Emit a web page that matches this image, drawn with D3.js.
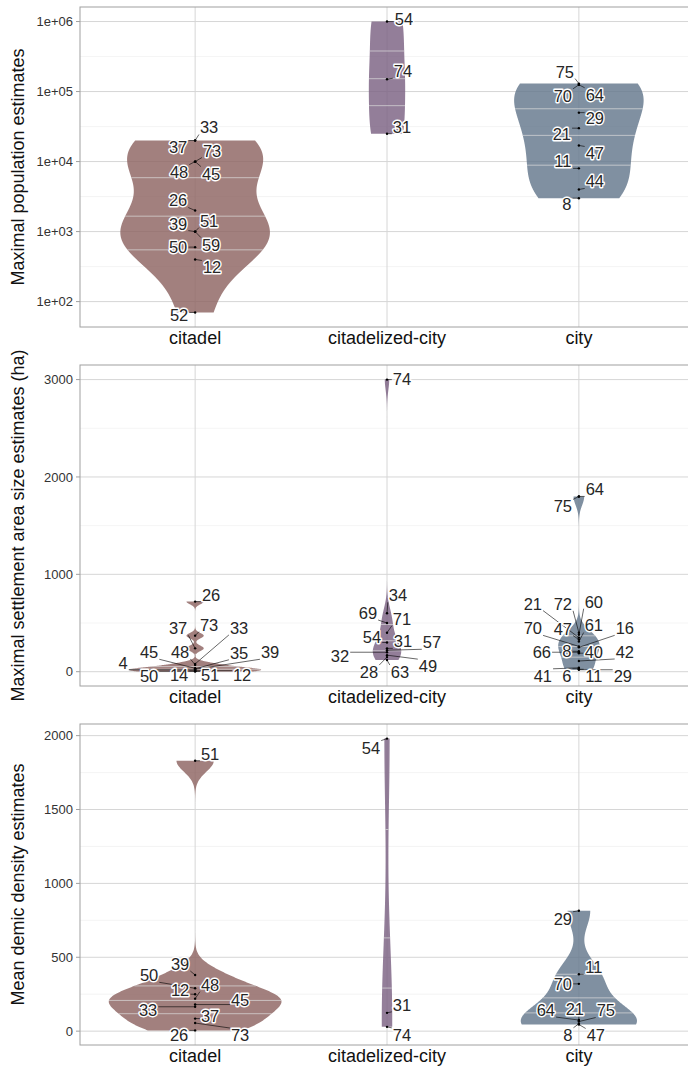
<!DOCTYPE html>
<html>
<head>
<meta charset="utf-8">
<title>Violin panels</title>
<script src="https://cdn.jsdelivr.net/npm/d3@7"></script>
<style>
  body { margin: 0; background: #fff; }
  text { font-family: "Liberation Sans", Arial, Helvetica, sans-serif; }
</style>
</head>
<body>
<svg id="chart" width="688" height="1068"></svg>
<script>
const categories = ["citadel", "citadelized-city", "city"];

// maximal population estimates
const popCitadelIds = [33, 37, 73, 48, 45, 26, 39, 51, 59, 50, 12, 52];
const popCitadel = [20000, 20000, 10000, 10000, 10000, 2000, 1000, 1000, 1000, 600, 400, 70];
const popCitadelizedIds = [54, 74, 31];
const popCitadelized = [1000000, 150000, 25000];
const popCityIds = [75, 70, 64, 29, 21, 47, 11, 44, 8];
const popCity = [130000, 125000, 125000, 50000, 30000, 17000, 8000, 4000, 3000];
const popTicks = [1e2, 1e3, 1e4, 1e5, 1e6];
const popTickLabels = ["1e+02", "1e+03", "1e+04", "1e+05", "1e+06"];

// maximal settlement area size (ha)
const areaCitadelIds = [26, 73, 37, 33, 48, 45, 35, 39, 4, 12, 14, 50, 51];
const areaCitadel = [720, 370, 240, 80, 70, 35, 30, 25, 20, 10, 8, 5, 3];
const areaCitadelizedIds = [74, 34, 69, 71, 54, 31, 57, 32, 49, 28, 63];
const areaCitadelized = [3000, 600, 500, 400, 300, 240, 220, 200, 170, 150, 120];
const areaCityIds = [64, 75, 72, 60, 21, 47, 61, 70, 16, 8, 66, 40, 42, 41, 6, 11, 29];
const areaCity = [1800, 1800, 400, 380, 350, 330, 310, 260, 250, 210, 200, 190, 110, 40, 30, 25, 20];
const areaTicks = [0, 1000, 2000, 3000];

// mean demic density
const densCitadelIds = [51, 39, 50, 12, 48, 45, 33, 37, 73, 26];
const densCitadel = [1830, 380, 290, 250, 220, 180, 165, 85, 55, 5];
const densCitadelizedIds = [54, 31, 74];
const densCitadelized = [1980, 124, 29];
const densCityIds = [29, 11, 70, 64, 21, 75, 8, 47];
const densCity = [815, 385, 320, 75, 70, 65, 50, 45];
const densTicks = [0, 500, 1000, 1500, 2000];

// where each repelled label sits relative to its point (px)
const popCitadelNudge = [[14,-13],[-17,7],[17,-11],[-16,10],[16,12],[-17,-10],[-17,-8],[14,-11],[16,13],[-17,0],[17,8],[-16,3]];
const popCitadelizedNudge = [[17,-2],[16,-8],[15,-7]];
const popCityNudge = [[-14,-12],[-16,11],[16,10],[16,5],[-17,6],[16,8],[-16,-7],[16,-8],[-12,6]];
const areaCitadelNudge = [[16,-7],[14,-11],[-17,-20],[44,-36],[-15,-13],[-46,-16],[44,-16],[75,-17],[-72,-7],[47,4],[-16,4],[-46,5],[15,4]];
const areaCitadelizedNudge = [[15,-1],[11,-18],[-19,-10],[15,-14],[-15,-5],[16,-7],[45,-8],[-47,4],[41,11],[-18,15],[13,12]];
const areaCityNudge = [[16,-7],[-16,10],[-16,-29],[15,-33],[-46,-34],[-16,-11],[15,-16],[-46,-18],[46,-19],[-12,0],[-37,0],[15,-1],[46,-9],[-36,8],[-12,7],[15,7],[44,6]];
const densCitadelNudge = [[15,-7],[-15,-11],[-46,-13],[-15,-4],[15,-14],[45,-4],[-47,3],[15,-3],[45,12],[-16,5]];
const densCitadelizedNudge = [[-16,9],[15,-8],[15,8]];
const densCityNudge = [[-16,8],[15,-7],[-16,0],[-33,-10],[-4,-12],[27,-11],[-11,11],[17,11]];

const fills = {"citadel": "#8e6462", "citadelized-city": "#7b6183", "city": "#64778c"};

const panels = [
  {title: "Maximal population estimates", top: 7, bottom: 327, log: true,
   ticks: popTicks, tickLabels: popTickLabels,
   groups: [[popCitadelIds, popCitadel, popCitadelNudge], [popCitadelizedIds, popCitadelized, popCitadelizedNudge], [popCityIds, popCity, popCityNudge]]},
  {title: "Maximal settlement area size estimates (ha)", top: 365, bottom: 686, log: false,
   ticks: areaTicks, tickLabels: areaTicks.map(String),
   groups: [[areaCitadelIds, areaCitadel, areaCitadelNudge], [areaCitadelizedIds, areaCitadelized, areaCitadelizedNudge], [areaCityIds, areaCity, areaCityNudge]]},
  {title: "Mean demic density estimates", top: 724, bottom: 1045, log: false,
   ticks: densTicks, tickLabels: densTicks.map(String),
   groups: [[densCitadelIds, densCitadel, densCitadelNudge], [densCitadelizedIds, densCitadelized, densCitadelizedNudge], [densCityIds, densCity, densCityNudge]]}
];

const svg = d3.select("#chart");
const left = 80, right = 694;
const x = d3.scalePoint().domain(categories).range([left, right]).padding(0.6);
const halfMax = 0.45 * x.step();

// R's bw.nrd0
function bwNrd0(v) {
  const hi = d3.deviation(v);
  let lo = Math.min(hi, (d3.quantile(v, 0.75) - d3.quantile(v, 0.25)) / 1.34);
  if (!lo) lo = hi || Math.abs(v[0]) || 1;
  return 0.9 * lo * Math.pow(v.length, -0.2);
}

function kde(v) {
  const bw = bwNrd0(v);
  const [mn, mx] = d3.extent(v);
  return d3.range(512).map(i => {
    const y = mn + (mx - mn) * i / 511;
    const d = d3.mean(v, t => Math.exp(-0.5 * ((y - t) / bw) ** 2)) / (bw * Math.sqrt(2 * Math.PI));
    return {y, d};
  });
}

function quantileYs(dens, qs) {
  const total = d3.sum(dens, p => p.d);
  let acc = 0;
  const cdf = dens.map(p => (acc += p.d) / total);
  return qs.map(q => {
    const i = cdf.findIndex(c => c >= q);
    if (i <= 0) return dens[0];
    const f = (q - cdf[i - 1]) / (cdf[i] - cdf[i - 1]);
    return {y: dens[i - 1].y + f * (dens[i].y - dens[i - 1].y), d: dens[i - 1].d + f * (dens[i].d - dens[i - 1].d)};
  });
}

panels.forEach(p => {
  const tf = p.log ? Math.log10 : (v => v);
  const all = p.groups.flatMap(g => g[1].map(tf));
  const [lo, hi] = d3.extent(all);
  const pad = (hi - lo) * 0.05;
  const y = d3.scaleLinear().domain([lo - pad, hi + pad]).range([p.bottom, p.top]);
  const g = svg.append("g");

  // grid
  const major = p.ticks.map(tf);
  const minor = d3.pairs(major).map(([a, b]) => (a + b) / 2);
  g.selectAll(".minor").data(minor).join("line")
    .attr("x1", left).attr("x2", right).attr("y1", d => y(d)).attr("y2", d => y(d))
    .attr("stroke", "#ececec").attr("stroke-width", 0.6);
  g.selectAll(".major").data(major).join("line")
    .attr("x1", left).attr("x2", right).attr("y1", d => y(d)).attr("y2", d => y(d))
    .attr("stroke", "#d6d6d6").attr("stroke-width", 1);
  g.selectAll(".vgrid").data(categories).join("line")
    .attr("x1", d => x(d)).attr("x2", d => x(d)).attr("y1", p.top).attr("y2", p.bottom)
    .attr("stroke", "#d6d6d6").attr("stroke-width", 1);

  // violins, ggplot scale = "count"
  const dens = p.groups.map(gr => kde(gr[1].map(tf)));
  const maxD = d3.max(dens, ds => d3.max(ds, q => q.d));
  const maxN = d3.max(p.groups, gr => gr[1].length);
  p.groups.forEach((gr, i) => {
    const cx = x(categories[i]);
    const k = halfMax / maxD * gr[1].length / maxN;
    const area = d3.area().y(q => y(q.y)).x0(q => cx - q.d * k).x1(q => cx + q.d * k);
    g.append("path").attr("d", area(dens[i]))
      .attr("fill", fills[categories[i]]).attr("fill-opacity", 0.82);
    g.selectAll(null).data(quantileYs(dens[i], [0.25, 0.5, 0.75])).join("line")
      .attr("x1", q => cx - q.d * k).attr("x2", q => cx + q.d * k)
      .attr("y1", q => y(q.y)).attr("y2", q => y(q.y))
      .attr("stroke", "#dcdcdc").attr("stroke-opacity", 0.7).attr("stroke-width", 1);
  });

  // points, leader segments and labels
  const labelled = p.groups.flatMap((gr, i) => gr[0].map((id, j) => {
    const px = x(categories[i]), py = y(tf(gr[1][j]));
    const lx = px + gr[2][j][0], ly = py + gr[2][j][1];
    const w = String(id).length * 9.2 + 2, h = 14;
    const ex = Math.max(lx - w / 2, Math.min(px, lx + w / 2));
    const ey = Math.max(ly - h / 2, Math.min(py, ly + h / 2));
    return {id, px, py, lx, ly, ex, ey};
  }));
  g.selectAll(".seg").data(labelled.filter(d => Math.hypot(d.ex - d.px, d.ey - d.py) > 4)).join("line")
    .attr("x1", d => d.px).attr("y1", d => d.py).attr("x2", d => d.ex).attr("y2", d => d.ey)
    .attr("stroke", "#000").attr("stroke-width", 0.6);
  g.selectAll(".pt").data(labelled).join("circle")
    .attr("cx", d => d.px).attr("cy", d => d.py).attr("r", 1.2).attr("fill", "#000");
  g.selectAll(".lab").data(labelled).join("text")
    .attr("x", d => d.lx).attr("y", d => d.ly).attr("dy", "0.36em")
    .attr("text-anchor", "middle").attr("font-size", 16.5).attr("fill", "#262626")
    .attr("stroke", "#fff").attr("stroke-width", 2.8).attr("stroke-linejoin", "round")
    .attr("paint-order", "stroke").text(d => d.id);

  // frame, ticks, labels
  g.append("rect").attr("x", left).attr("y", p.top).attr("width", right - left).attr("height", p.bottom - p.top)
    .attr("fill", "none").attr("stroke", "#a0a0a0").attr("stroke-width", 1);
  g.selectAll(".tick").data(major).join("line")
    .attr("x1", left - 4).attr("x2", left).attr("y1", d => y(d)).attr("y2", d => y(d))
    .attr("stroke", "#a0a0a0");
  g.selectAll(".ticklab").data(major).join("text")
    .attr("x", left - 7).attr("y", d => y(d)).attr("dy", "0.36em")
    .attr("text-anchor", "end").attr("font-size", 13).attr("fill", "#333")
    .text((d, i) => p.tickLabels[i]);
  g.selectAll(".cat").data(categories).join("text")
    .attr("x", d => x(d)).attr("y", p.bottom + 17)
    .attr("text-anchor", "middle").attr("font-size", 18).attr("fill", "#111").text(d => d);
  g.append("text")
    .attr("transform", `translate(24,${(p.top + p.bottom) / 2}) rotate(-90)`)
    .attr("text-anchor", "middle").attr("font-size", 18).attr("fill", "#111").text(p.title);
});
</script>
</body>
</html>
